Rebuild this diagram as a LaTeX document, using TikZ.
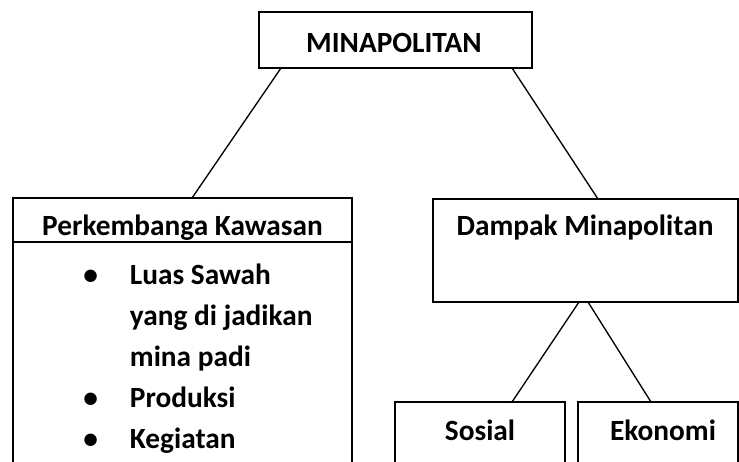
\documentclass[tikz,border=0pt]{standalone}
\usepackage{fontspec}
\setmainfont{Carlito}
\usetikzlibrary{positioning}
\begin{document}
\begin{tikzpicture}[x=0.75pt, y=-0.75pt, node distance=0pt,
	box/.style={rectangle, draw, line width=1.3pt, inner sep=0pt, outer sep=0pt},
	txt/.style={inner sep=0pt, anchor=base, font=\fontsize{22}{30.75}\selectfont\bfseries},
	link/.style={line width=1pt}]
	\useasboundingbox (0,0) rectangle (739,461);
	\clip (0,0) rectangle (739,461);

	\node (mina) [box, minimum width=273*0.75pt, minimum height=56*0.75pt] at (395.5,40) {};
	\node (head) [box, minimum width=339*0.75pt, minimum height=44*0.75pt] at (182.5,220) {};
	\node (body) [box, minimum width=339*0.75pt, minimum height=238*0.75pt, below=of head] {};
	\node (dampak) [box, minimum width=305*0.75pt, minimum height=103*0.75pt] at (585.5,250.5) {};
	\node (sosial) [box, minimum width=170*0.75pt, minimum height=78*0.75pt] at (480,441) {};
	\node (ekonomi) [box, minimum width=160*0.75pt, minimum height=78*0.75pt] at (658,441) {};

	\node (minatxt) [txt] at (394,52) {MINAPOLITAN};
	\node (headtxt) [txt] at (182.5,235) {Perkembanga Kawasan};
	\node (list) [txt, anchor=base west] at (83,284) {\begin{tabular}[t]{@{}p{35pt}@{}l@{}}
		\textbullet & Luas Sawah\\
		 & yang di jadikan\\
		 & mina padi\\
		\textbullet & Produksi\\
		\textbullet & Kegiatan
	\end{tabular}};
	\node (dampaktxt) [txt] at (585,235) {Dampak Minapolitan};
	\node (sosialtxt) [txt] at (480,440) {Sosial};
	\node (ekonomitxt) [txt] at (663,440) {Ekonomi};

	\draw [link] ([xshift=22*0.75pt]mina.south west) -- ([xshift=179*0.75pt]head.north west);
	\draw [link] ([xshift=-20*0.75pt]mina.south east) -- ([xshift=165*0.75pt]dampak.north west);
	\draw [link] ([xshift=146*0.75pt]dampak.south west) -- ([xshift=117*0.75pt]sosial.north west);
	\draw [link] ([xshift=155*0.75pt]dampak.south west) -- ([xshift=73*0.75pt]ekonomi.north west);

\end{tikzpicture}
\end{document}
